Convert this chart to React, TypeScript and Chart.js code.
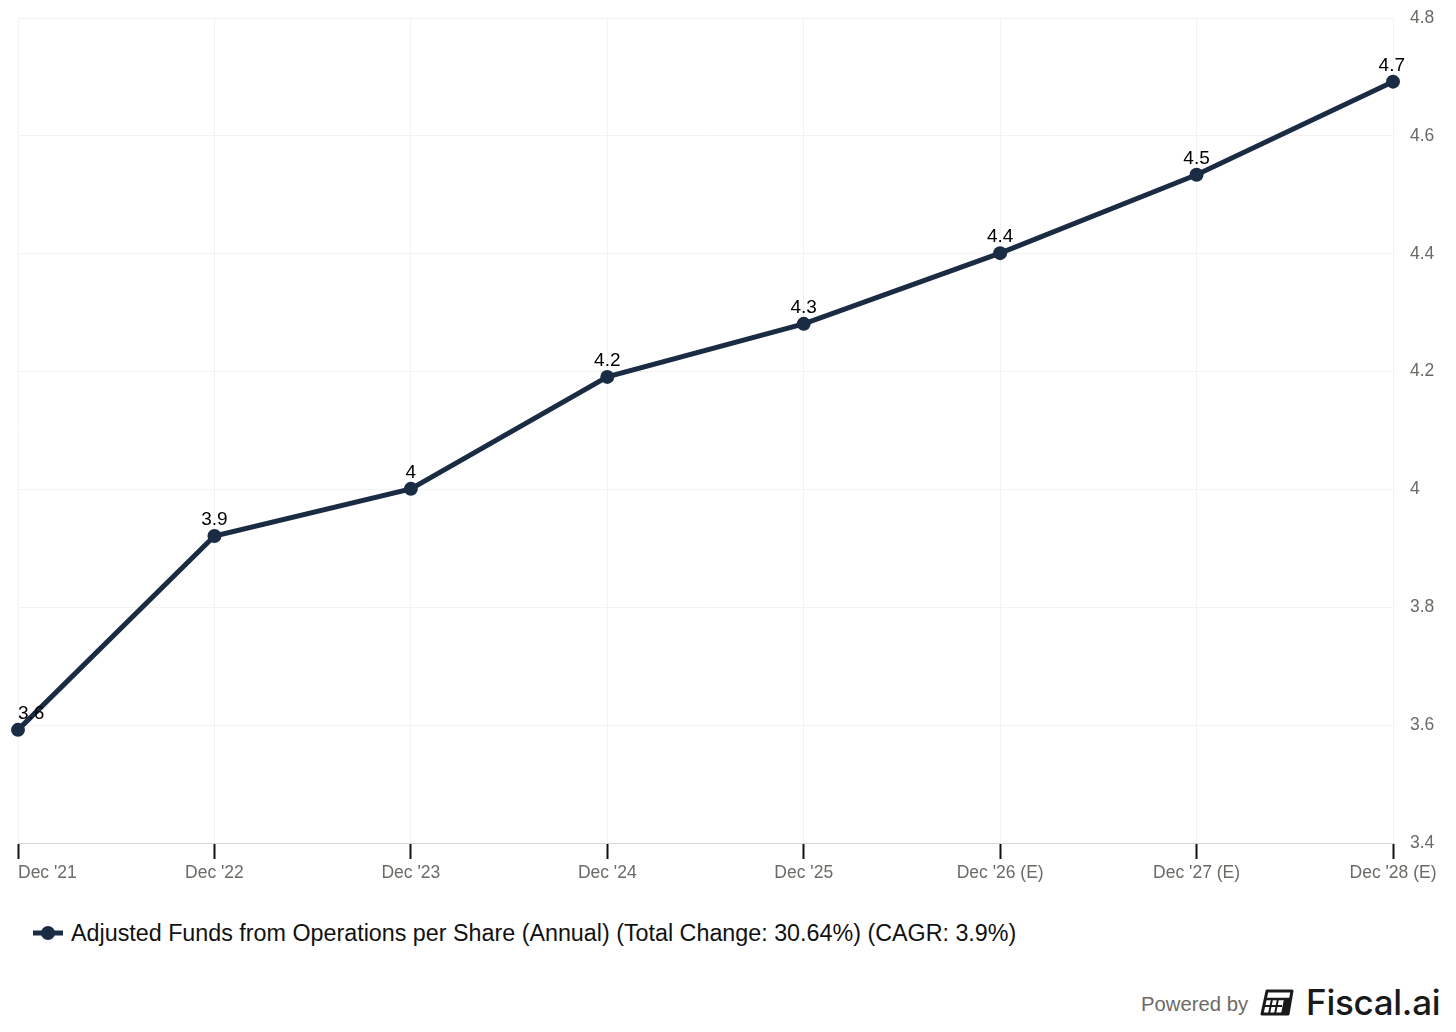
import React, { useEffect, useRef } from "react";
import { Chart, registerables } from "chart.js";

Chart.register(...registerables);

const categories = ["Dec '21", "Dec '22", "Dec '23", "Dec '24", "Dec '25", "Dec '26 (E)", "Dec '27 (E)", "Dec '28 (E)"];
const affoValues = [3.592, 3.921, 4.001, 4.191, 4.281, 4.401, 4.534, 4.692];
const dataLabels = ["3.6", "3.9", "4", "4.2", "4.3", "4.4", "4.5", "4.7"];
const yMin = 3.4;
const yMax = 4.8;
const yStep = 0.2;
const seriesName = "Adjusted Funds from Operations per Share (Annual) (Total Change: 30.64%) (CAGR: 3.9%)";

const LINE = "#1a2b44";
const FONT = "'Liberation Sans', Arial, sans-serif";
const TICK_COLOR = "#6d6a66";

const labelPlugin = {
  id: "customLabels",
  afterDatasetsDraw(chart: any) {
    const { ctx, chartArea } = chart;
    const meta = chart.getDatasetMeta(0);
    ctx.save();
    ctx.font = `19px ${FONT}`;
    ctx.fillStyle = "#000";
    ctx.textBaseline = "middle";
    meta.data.forEach((pt: any, i: number) => {
      const t = dataLabels[i];
      const w = ctx.measureText(t).width;
      let x = pt.x - w / 2;
      if (x < chartArea.left) x = chartArea.left;
      if (x + w > chartArea.right + 12) x = chartArea.right + 12 - w;
      ctx.textAlign = "left";
      ctx.fillText(t, x, pt.y - 16);
    });
    const xs = chart.scales.x;
    ctx.font = `17.5px ${FONT}`;
    ctx.fillStyle = TICK_COLOR;
    categories.forEach((c, i) => {
      const px = xs.getPixelForValue(i);
      const w = ctx.measureText(c).width;
      let x = px - w / 2;
      if (x < chartArea.left) x = chartArea.left;
      ctx.textAlign = "left";
      ctx.fillText(c, x, chartArea.bottom + 30);
    });
    ctx.restore();
  },
};

function App() {
  const ref = useRef<HTMLCanvasElement | null>(null);
  useEffect(() => {
    if (!ref.current) return;
    const chart = new Chart(ref.current, {
      type: "line",
      data: {
        labels: categories,
        datasets: [
          {
            label: seriesName,
            data: affoValues,
            borderColor: LINE,
            backgroundColor: LINE,
            borderWidth: 5,
            pointRadius: 7,
            pointBackgroundColor: LINE,
            pointBorderColor: LINE,
            pointBorderWidth: 0,
            tension: 0,
            clip: false as any,
          },
        ],
      },
      options: {
        responsive: false,
        animation: false,
        layout: { padding: { left: 18, top: 18, right: 0, bottom: 0 } },
        plugins: { legend: { display: false }, tooltip: { enabled: false } },
        scales: {
          x: {
            type: "category",
            offset: false,
            grid: {
              color: "#f2f2f2",
              lineWidth: 1,
              drawTicks: true,
              tickLength: 16,
              tickColor: "#111",
              tickWidth: 2,
            },
            border: { color: "#d8d8d8", width: 1 },
            ticks: { display: false },
            afterFit(scale: any) {
              scale.height = 57;
              scale.paddingLeft = 0;
              scale.paddingRight = 0;
            },
          },
          y: {
            position: "right",
            min: yMin,
            max: yMax,
            grid: { color: "#f2f2f2", lineWidth: 1, drawTicks: false },
            border: { display: false },
            ticks: {
              stepSize: yStep,
              padding: 17,
              color: TICK_COLOR,
              font: { family: FONT, size: 17.5 },
              callback: (v: any) => String(Number(Number(v).toFixed(1))),
            },
            afterFit(scale: any) {
              scale.width = 63;
              scale.paddingTop = 0;
              scale.paddingBottom = 0;
            },
          },
        },
      },
      plugins: [labelPlugin],
    });
    return () => chart.destroy();
  }, []);

  return (
    <div style={{ position: "absolute", left: 0, top: 0, width: 1456, height: 1032, background: "#fff", fontFamily: FONT }}>
      <canvas ref={ref} width={1456} height={900} style={{ display: "block" }} />
      <div style={{ position: "absolute", left: 33, top: 917, display: "flex", alignItems: "center", height: 32 }}>
        <svg width={30} height={14} style={{ marginRight: 8 }}>
          <line x1={0} y1={7} x2={30} y2={7} stroke={LINE} strokeWidth={5} />
          <circle cx={15} cy={7} r={7} fill={LINE} />
        </svg>
        <span style={{ fontSize: 23.3, color: "#111", whiteSpace: "nowrap" }}>{seriesName}</span>
      </div>
      <div style={{ position: "absolute", left: 1141, top: 980, display: "flex", alignItems: "center", height: 44 }}>
        <span style={{ fontSize: 20.3, color: TICK_COLOR, marginRight: 12, marginTop: 4 }}>Powered by</span>
        <svg width={34} height={27} viewBox="0 0 34 27" style={{ marginRight: 12 }}>
          <path d="M7 2 H32 L28 25 H2 Z" fill="none" stroke="#1a1a1a" strokeWidth={3} strokeLinejoin="round" />
          <line x1={5} y1={10} x2={30} y2={10} stroke="#1a1a1a" strokeWidth={2.5} />
          <line x1={4} y1={17} x2={22} y2={17} stroke="#1a1a1a" strokeWidth={2} />
          <line x1={12} y1={10} x2={9} y2={25} stroke="#1a1a1a" strokeWidth={2} />
          <line x1={18} y1={10} x2={15} y2={25} stroke="#1a1a1a" strokeWidth={2} />
          <path d="M24 10 H30 L27 25 H21 Z" fill="#1a1a1a" />
        </svg>
        <span style={{ fontSize: 35, fontWeight: 500, color: "#1a1a1a", fontFamily: "Inter, sans-serif", letterSpacing: -0.3 }}>Fiscal.ai</span>
      </div>
    </div>
  );
}

export default App;
